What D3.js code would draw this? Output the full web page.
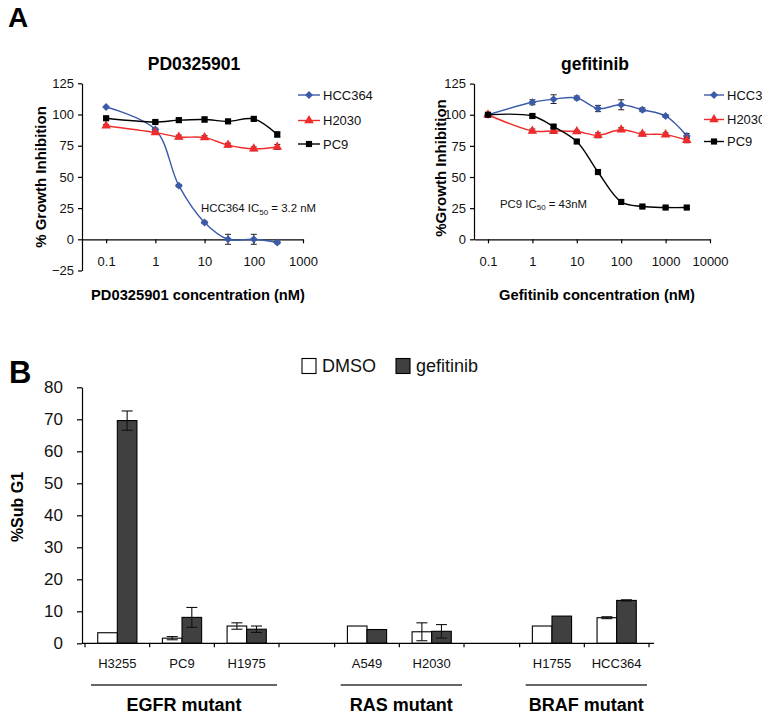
<!DOCTYPE html>
<html>
<head>
<meta charset="utf-8">
<script src="https://cdn.jsdelivr.net/npm/d3@7"></script>
<style>
  html, body { margin: 0; padding: 0; background: #fff; overflow: hidden; }
  svg { display: block; font-family: "Liberation Sans", Arial, sans-serif; }
</style>
</head>
<body>
<svg id="chart" width="762" height="720"></svg>
<script>
// ---------------- DATA ----------------
// Panel A, left: PD0325901
const pdConc      = [0.1, 1, 3, 10, 30, 100, 300];
const pdHCC364    = [106, 88, 43, 13.5, 0, 0, -2.6];
const pdHCC364Err = [0.8, 1, 1, 1, 4, 4, 1];
const pdH2030     = [91, 85.5, 82, 81.5, 75.5, 72.5, 74];
const pdH2030Err  = [1, 1, 1.5, 1.5, 1.5, 1.5, 2];
const pdPC9       = [97, 94, 95.5, 96, 94.5, 96.5, 84];
const pdPC9Err    = [1, 1, 1.5, 2, 1.5, 1.5, 2];
const pdTicks     = [0.1, 1, 10, 100, 1000];
const pdYTicks    = [-25, 0, 25, 50, 75, 100, 125];

// Panel A, right: gefitinib
const gefConc      = [0.1, 1, 3, 10, 30, 100, 300, 1000, 3000];
const gefHCC364    = [100, 110, 112.5, 113.5, 105, 108, 104, 99, 83];
const gefHCC364Err = [1.5, 2, 3.5, 1.5, 2.5, 4, 1.5, 1, 2];
const gefH2030     = [100, 87, 87, 86.5, 83.5, 88, 84.5, 84, 79.5];
const gefH2030Err  = [1, 1.5, 2, 1, 2, 1.5, 1.5, 1.5, 2];
const gefPC9       = [100, 99, 90.5, 78.5, 54, 30, 26.3, 25.5, 25.5];
const gefPC9Err    = [1, 1.5, 1, 1, 1, 1.5, 1, 1, 1];
const gefTicks     = [0.1, 1, 10, 100, 1000, 10000];
const gefYTicks    = [0, 25, 50, 75, 100, 125];

const seriesNames  = ["HCC364", "H2030", "PC9"];

// Panel B: %Sub G1
const barCategories = ["H3255", "PC9", "H1975", "A549", "H2030", "H1755", "HCC364"];
const barGroupOf    = ["EGFR mutant", "EGFR mutant", "EGFR mutant", "RAS mutant", "RAS mutant", "BRAF mutant", "BRAF mutant"];
const barGroups     = ["EGFR mutant", "RAS mutant", "BRAF mutant"];
const dmsoValues    = [3.3, 1.6, 5.4, 5.4, 3.6, 5.4, 8.0];
const dmsoErr       = [0, 0.5, 1, 0, 2.8, 0, 0.3];
const gefValues     = [69.6, 8.1, 4.4, 4.3, 3.75, 8.5, 13.4];
const gefErr        = [3, 3.1, 1, 0, 2.1, 0, 0.2];
const barSeries     = ["DMSO", "gefitinib"];
const barYTicks     = [0, 10, 20, 30, 40, 50, 60, 70, 80];

// ---------------- STYLE ----------------
const colors  = { HCC364: "#3b5ba9", H2030: "#ef2b2b", PC9: "#000000" };
const symbols = { HCC364: d3.symbolDiamond2 || d3.symbolDiamond, H2030: d3.symbolTriangle, PC9: d3.symbolSquare };
const symSize = { HCC364: 40, H2030: 40, PC9: 38 };
const barFill = { DMSO: "#ffffff", gefitinib: "#404040" };

const svg = d3.select("#chart");

// panel letters
svg.append("text").attr("x", 8).attr("y", 27).attr("font-size", 28).attr("font-weight", "bold").text("A");
svg.append("text").attr("x", 9).attr("y", 383).attr("font-size", 31).attr("font-weight", "bold").text("B");

// ------------- dose-response panel -------------
function dosePanel(cfg) {
  const g = svg.append("g");
  const x = d3.scaleLog().domain(cfg.xDomain).range([cfg.x0, cfg.x1]);
  const y = d3.scaleLinear().domain(cfg.yDomain).range([cfg.yBottom, cfg.yTop]);

  // y axis
  const ya = g.append("g").attr("transform", `translate(${cfg.x0},0)`)
    .call(d3.axisLeft(y).tickValues(cfg.yTicks).tickSize(4).tickPadding(4).tickSizeOuter(0));
  ya.selectAll("text").attr("font-size", 13).attr("font-family", null).attr("fill", "#111");
  ya.selectAll("line,path").attr("stroke", "#000").attr("stroke-width", 1.2);

  // x axis at y = 0
  const xa = g.append("g").attr("transform", `translate(0,${y(0)})`)
    .call(d3.axisBottom(x).tickValues(cfg.xTicks).tickFormat(d => String(d)).tickSize(4).tickPadding(13.5).tickSizeOuter(0));
  xa.selectAll("text").attr("font-size", 13).attr("font-family", null).attr("fill", "#111");
  xa.selectAll("line,path").attr("stroke", "#000").attr("stroke-width", 1.2);

  // title & axis titles
  g.append("text").attr("x", cfg.titleX).attr("y", 70).attr("text-anchor", "middle")
    .attr("font-size", 17.5).attr("font-weight", "bold").text(cfg.title);
  g.append("text").attr("x", cfg.xTitleX).attr("y", 300).attr("text-anchor", "middle")
    .attr("font-size", 14.7).attr("font-weight", "bold").text(cfg.xTitle);
  g.append("text").attr("transform", `translate(${cfg.yTitleX},${cfg.yTitleY}) rotate(-90)`)
    .attr("text-anchor", "middle").attr("font-size", 15).attr("font-weight", "bold").text(cfg.yTitle);

  const line = d3.line().x(d => x(d.c)).y(d => y(d.v)).curve(d3.curveCatmullRom.alpha(0.5));

  cfg.series.forEach(s => {
    const pts = cfg.conc.map((c, i) => ({ c, v: s.values[i], e: s.err[i] }));
    const col = colors[s.name];
    g.append("path").datum(pts).attr("d", line).attr("fill", "none")
      .attr("stroke", col).attr("stroke-width", 1.4);
    // error bars
    const eb = g.append("g").attr("stroke", col === "#000000" ? "#000" : "#222").attr("stroke-width", 1);
    pts.filter(p => p.e > 0.9).forEach(p => {
      const cx = x(p.c);
      eb.append("line").attr("x1", cx).attr("x2", cx).attr("y1", y(p.v - p.e)).attr("y2", y(p.v + p.e));
      [p.v - p.e, p.v + p.e].forEach(v => eb.append("line").attr("x1", cx - 3).attr("x2", cx + 3).attr("y1", y(v)).attr("y2", y(v)));
    });
    g.selectAll(null).data(pts).enter().append("path")
      .attr("transform", p => `translate(${x(p.c)},${y(p.v)})`)
      .attr("d", d3.symbol().type(symbols[s.name]).size(symSize[s.name]))
      .attr("fill", col);
  });

  // legend
  cfg.series.forEach((s, i) => {
    const ly = cfg.legendY[i];
    const col = colors[s.name];
    g.append("line").attr("x1", cfg.legendX).attr("x2", cfg.legendX + cfg.legendLen)
      .attr("y1", ly).attr("y2", ly).attr("stroke", col).attr("stroke-width", 1.4);
    g.append("path").attr("transform", `translate(${cfg.legendX + cfg.legendLen / 2},${ly})`)
      .attr("d", d3.symbol().type(symbols[s.name]).size(symSize[s.name])).attr("fill", col);
    g.append("text").attr("x", cfg.legendX + cfg.legendLen + 3).attr("y", ly + 4.6)
      .attr("font-size", 13).attr("fill", "#111").text(s.name);
  });

  // IC50 annotation
  const t = g.append("text").attr("x", cfg.annX).attr("y", cfg.annY).attr("font-size", 11.4).attr("fill", "#111");
  t.append("tspan").text(cfg.annPre);
  t.append("tspan").attr("font-size", 8).attr("dy", 2.5).text("50");
  t.append("tspan").attr("dy", -2.5).text(cfg.annPost);
}

dosePanel({
  title: "PD0325901", titleX: 194,
  xTitle: "PD0325901 concentration (nM)", xTitleX: 198,
  yTitle: "% Growth Inhibition", yTitleX: 46, yTitleY: 177,
  x0: 82, x1: 303, xDomain: [0.1 / Math.pow(10, 0.49), 1000], xTicks: pdTicks,
  yTop: 83.3, yBottom: 270.5, yDomain: [-25, 125], yTicks: pdYTicks,
  conc: pdConc,
  series: [
    { name: seriesNames[0], values: pdHCC364, err: pdHCC364Err },
    { name: seriesNames[1], values: pdH2030, err: pdH2030Err },
    { name: seriesNames[2], values: pdPC9, err: pdPC9Err }
  ],
  legendX: 298, legendLen: 22, legendY: [95, 120.5, 144],
  annX: 201, annY: 212, annPre: "HCC364 IC", annPost: " = 3.2 nM"
});

dosePanel({
  title: "gefitinib", titleX: 595,
  xTitle: "Gefitinib concentration (nM)", xTitleX: 597,
  yTitle: "%Growth Inhibition", yTitleX: 446, yTitleY: 168,
  x0: 474, x1: 710, xDomain: [0.1 / Math.pow(10, 0.315), 10000], xTicks: gefTicks,
  yTop: 83.6, yBottom: 239.3, yDomain: [0, 125], yTicks: gefYTicks,
  conc: gefConc,
  series: [
    { name: seriesNames[0], values: gefHCC364, err: gefHCC364Err },
    { name: seriesNames[1], values: gefH2030, err: gefH2030Err },
    { name: seriesNames[2], values: gefPC9, err: gefPC9Err }
  ],
  legendX: 704, legendLen: 20, legendY: [95, 119.5, 141.5],
  annX: 500, annY: 207.5, annPre: "PC9 IC", annPost: " = 43nM"
});

// ------------- bar panel -------------
(function barPanel() {
  const g = svg.append("g");
  // slot layout: categories width 1, group gaps narrower
  const gapUnits = 0.86;
  const slots = [];
  let u = 0;
  barCategories.forEach((c, i) => {
    if (i > 0 && barGroupOf[i] !== barGroupOf[i - 1]) u += gapUnits;
    slots.push({ cat: c, group: barGroupOf[i], start: u, end: u + 1, i });
    u += 1;
  });
  const totalUnits = u;
  const x = d3.scaleLinear().domain([0, totalUnits]).range([85, 649]);
  const y = d3.scaleLinear().domain([0, 80]).range([643.3, 387.3]);
  const inner = d3.scaleBand().domain(barSeries).range([0, x(1) - x(0)]).paddingInner(0).paddingOuter(0.65);

  // boundaries for ticks
  const bounds = [];
  slots.forEach((s, i) => {
    bounds.push(s.start);
    if (i > 0 && slots[i - 1].end !== s.start) bounds.push(slots[i - 1].end);
  });
  bounds.push(totalUnits);

  // y axis
  const ya = g.append("g").attr("transform", "translate(82,0)")
    .call(d3.axisLeft(y).tickValues(barYTicks).tickSize(5).tickPadding(14).tickSizeOuter(0));
  ya.selectAll("text").attr("font-size", 17).attr("font-family", null).attr("fill", "#111");
  ya.selectAll("line,path").attr("stroke", "#000").attr("stroke-width", 1.2);

  g.append("text").attr("transform", "translate(23,507) rotate(-90)").attr("text-anchor", "middle")
    .attr("font-size", 16).attr("font-weight", "bold").text("%Sub G1");

  // bars
  slots.forEach(s => {
    const vals = [dmsoValues[s.i], gefValues[s.i]];
    barSeries.forEach((ser, k) => {
      g.append("rect").attr("x", x(s.start) + inner(ser)).attr("width", inner.bandwidth())
        .attr("y", y(vals[k])).attr("height", y(0) - y(vals[k]))
        .attr("fill", barFill[ser]).attr("stroke", "#000").attr("stroke-width", 1.1);
    });
  });
  // error bars
  slots.forEach(s => {
    const vals = [dmsoValues[s.i], gefValues[s.i]];
    const errs = [dmsoErr[s.i], gefErr[s.i]];
    barSeries.forEach((ser, k) => {
      if (errs[k] <= 0) return;
      const cx = x(s.start) + inner(ser) + inner.bandwidth() / 2;
      const lo = y(vals[k] - errs[k]), hi = y(vals[k] + errs[k]);
      g.append("line").attr("x1", cx).attr("x2", cx).attr("y1", lo).attr("y2", hi).attr("stroke", "#111").attr("stroke-width", 1.1);
      [lo, hi].forEach(yy => g.append("line").attr("x1", cx - 5.5).attr("x2", cx + 5.5).attr("y1", yy).attr("y2", yy)
        .attr("stroke", "#111").attr("stroke-width", 1.1));
    });
  });

  // x axis line and ticks
  g.append("line").attr("x1", 82).attr("x2", 654).attr("y1", y(0)).attr("y2", y(0)).attr("stroke", "#000").attr("stroke-width", 1.2);
  bounds.forEach(b => g.append("line").attr("x1", x(b)).attr("x2", x(b)).attr("y1", y(0)).attr("y2", y(0) + 4)
    .attr("stroke", "#000").attr("stroke-width", 1.2));

  // category labels
  slots.forEach(s => g.append("text").attr("x", x((s.start + s.end) / 2)).attr("y", 667.5)
    .attr("text-anchor", "middle").attr("font-size", 13).attr("fill", "#111").text(s.cat));

  // group lines and labels
  barGroups.forEach(gr => {
    const ss = slots.filter(s => s.group === gr);
    const a = x(ss[0].start) + 6, b = x(ss[ss.length - 1].end) - 2;
    g.append("line").attr("x1", a).attr("x2", b).attr("y1", 685).attr("y2", 685).attr("stroke", "#333").attr("stroke-width", 1.3);
    g.append("text").attr("x", (a + b) / 2).attr("y", 711).attr("text-anchor", "middle")
      .attr("font-size", 18).attr("font-weight", "bold").text(gr);
  });

  // legend
  const legX = [302, 396];
  barSeries.forEach((ser, k) => {
    g.append("rect").attr("x", legX[k]).attr("y", 358.5).attr("width", 14).attr("height", 15)
      .attr("fill", barFill[ser]).attr("stroke", "#000").attr("stroke-width", 1.1);
    g.append("text").attr("x", legX[k] + 20).attr("y", 372).attr("font-size", 18).attr("fill", "#111").text(ser);
  });
})();
</script>
</body>
</html>
